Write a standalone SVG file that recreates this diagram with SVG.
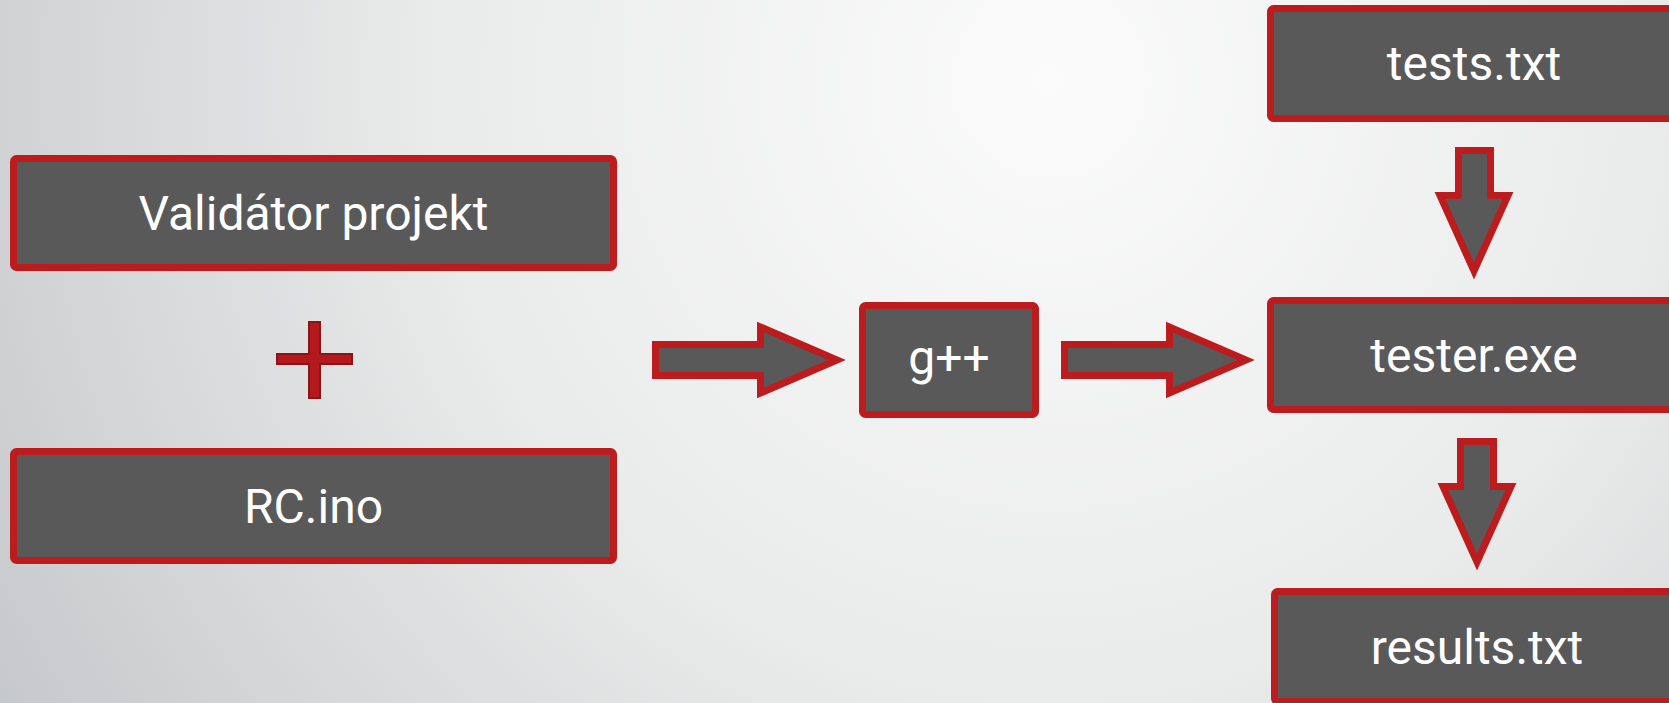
<svg xmlns="http://www.w3.org/2000/svg" width="1669" height="703" viewBox="0 0 1669 703">
<defs>
<radialGradient id="bg" gradientUnits="userSpaceOnUse" cx="1050" cy="80" r="1250">
<stop offset="0" stop-color="#fbfbfb"/>
<stop offset="0.5" stop-color="#e9eaea"/>
<stop offset="1" stop-color="#c4c7c9"/>
</radialGradient>
<style>
.box{fill:#595959;stroke:#bc1c1e;stroke-width:7;}
.arr{fill:#595959;stroke:#bc1c1e;stroke-width:7;stroke-linejoin:miter;stroke-miterlimit:10;}
.lbl{fill:#ffffff;font-family:Roboto,"Liberation Sans",sans-serif;font-size:48px;text-anchor:middle;}
</style>
</defs>
<rect x="0" y="0" width="1669" height="703" fill="url(#bg)"/>
<g id="validator">
<rect class="box" x="13.5" y="158.5" width="600" height="109" rx="3"/>
<text class="lbl" x="313.5" y="230">Validátor projekt</text>
</g>
<g id="plus">
<path d="M309,322 H320 V354 H352 V364 H320 V398 H309 V364 H277 V354 H309 Z" fill="#b41a1d" stroke="#8a1416" stroke-width="2"/>
</g>
<g id="rcino">
<rect class="box" x="13.5" y="451.5" width="600" height="109" rx="3"/>
<text class="lbl" x="313.5" y="523">RC.ino</text>
</g>
<g id="gpp">
<rect class="box" x="862.5" y="305.5" width="173" height="109" rx="3"/>
<text class="lbl" x="949" y="374">g++</text>
</g>
<g id="tests">
<rect class="box" x="1270.5" y="8.5" width="420" height="110" rx="3"/>
<text class="lbl" x="1474" y="80">tests.txt</text>
</g>
<g id="tester">
<rect class="box" x="1270.5" y="300.5" width="420" height="109" rx="3"/>
<text class="lbl" x="1474" y="372">tester.exe</text>
</g>
<g id="results">
<rect class="box" x="1274.5" y="591.5" width="420" height="110" rx="3"/>
<text class="lbl" x="1477" y="664">results.txt</text>
</g>
<g id="connectors">
<polygon class="arr" points="655.5,344.5 760.5,344.5 760.5,327 837,360 760.5,393 760.5,375.5 655.5,375.5"/>
<polygon class="arr" points="1064.5,344.5 1169.5,344.5 1169.5,327 1246,360 1169.5,393 1169.5,375.5 1064.5,375.5"/>
<polygon class="arr" points="1458.5,150.5 1490.5,150.5 1490.5,195.5 1508,195.5 1474,271 1440,195.5 1458.5,195.5"/>
<polygon class="arr" points="1460.5,441.5 1493.5,441.5 1493.5,486.5 1511,486.5 1477,562 1443,486.5 1460.5,486.5"/>
</g>
</svg>
